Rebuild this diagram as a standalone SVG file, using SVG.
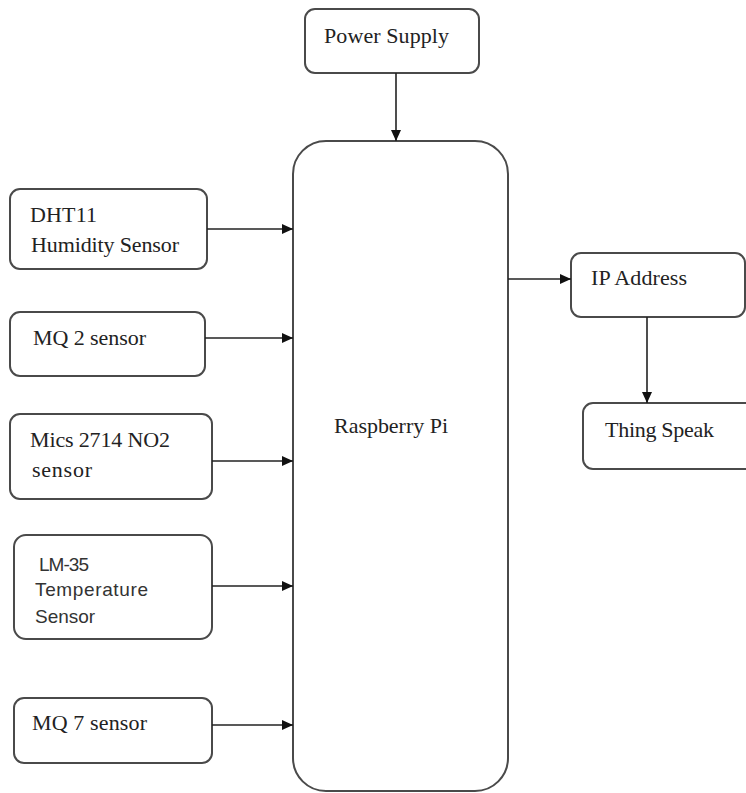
<svg xmlns="http://www.w3.org/2000/svg" width="746" height="793" viewBox="0 0 746 793">
<style>
.box{fill:#fff;stroke:#4a4a4a;stroke-width:2}
.serif{font-family:"Liberation Serif","Times New Roman",serif;font-size:22px;fill:#222}
.sans{font-family:"Liberation Sans","Open Sans",sans-serif;font-size:19px;fill:#333}
.conn line{stroke:#222;stroke-width:1.6}
</style>
<defs>
<marker id="arr" markerWidth="11" markerHeight="10" refX="11" refY="5" orient="auto" markerUnits="userSpaceOnUse">
<path d="M0,0 L11,5 L0,10 z" fill="#111"/>
</marker>
</defs>
<rect width="746" height="793" fill="#fff"/>
<g id="power">
<rect class="box" x="305" y="9" width="174" height="64" rx="10"/>
<text class="serif" x="324" y="43" textLength="125">Power Supply</text>
</g>
<g id="pi">
<rect class="box" x="293" y="141" width="215" height="650" rx="33"/>
<text class="serif" x="334" y="433" textLength="114">Raspberry Pi</text>
</g>
<g id="dht11">
<rect class="box" x="10" y="189" width="197" height="80" rx="10"/>
<text class="serif" x="30" y="222" textLength="67">DHT11</text>
<text class="serif" x="31" y="252" textLength="148">Humidity Sensor</text>
</g>
<g id="mq2">
<rect class="box" x="10" y="312" width="195" height="64" rx="10"/>
<text class="serif" x="33" y="345" textLength="113">MQ 2 sensor</text>
</g>
<g id="mics">
<rect class="box" x="10" y="414" width="202" height="85" rx="10"/>
<text class="serif" x="30" y="447" textLength="140">Mics 2714 NO2</text>
<text class="serif" x="32" y="477" textLength="60">sensor</text>
</g>
<g id="lm35">
<rect class="box" x="14" y="535" width="198" height="104" rx="12"/>
<text class="sans" x="39" y="571" textLength="50">LM-35</text>
<text class="sans" x="35" y="596" textLength="113">Temperature</text>
<text class="sans" x="35" y="623" textLength="60">Sensor</text>
</g>
<g id="mq7">
<rect class="box" x="14" y="698" width="198" height="65" rx="10"/>
<text class="serif" x="32" y="730" textLength="115">MQ 7 sensor</text>
</g>
<g id="ip">
<rect class="box" x="571" y="253" width="174" height="64" rx="10"/>
<text class="serif" x="591" y="285" textLength="96">IP Address</text>
</g>
<g id="thingspeak">
<rect class="box" x="583" y="403" width="175" height="66" rx="10"/>
<text class="serif" x="605" y="437" textLength="109">Thing Speak</text>
</g>
<g class="conn" id="connectors">
<line x1="396" y1="73" x2="396" y2="141" marker-end="url(#arr)"/>
<line x1="207" y1="229" x2="293" y2="229" marker-end="url(#arr)"/>
<line x1="205" y1="338" x2="293" y2="338" marker-end="url(#arr)"/>
<line x1="212" y1="461" x2="293" y2="461" marker-end="url(#arr)"/>
<line x1="212" y1="586" x2="293" y2="586" marker-end="url(#arr)"/>
<line x1="212" y1="725" x2="293" y2="725" marker-end="url(#arr)"/>
<line x1="508" y1="279" x2="571" y2="279" marker-end="url(#arr)"/>
<line x1="647" y1="317" x2="647" y2="403" marker-end="url(#arr)"/>
</g>
</svg>
